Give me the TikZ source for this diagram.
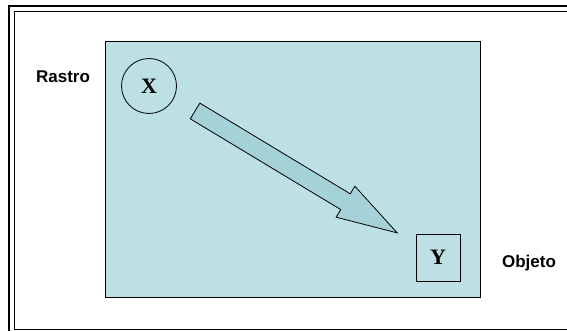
\documentclass[tikz,border=0pt]{standalone}
\usepackage{fontspec}
\setmainfont{Liberation Serif}
\setsansfont{Liberation Sans}
\usetikzlibrary{shapes.arrows,positioning}
\definecolor{fondo}{RGB}{188,224,228}
\definecolor{flecha}{RGB}{164,210,216}

\begin{document}
\begin{tikzpicture}[
    x=1pt, y=-1pt,
    marco/.style={draw, line width=1.6pt},
    zona/.style={draw, line width=1pt, fill=fondo},
    objeto/.style={draw, line width=0.8pt, inner sep=0pt, font=\bfseries\fontsize{22}{22}\selectfont},
    etiqueta/.style={font=\sffamily\bfseries\fontsize{17}{17}\selectfont},
    bloque/.style={draw, line width=0.8pt, fill=flecha, single arrow, inner xsep=0pt, inner ysep=8.8pt,
        minimum height=236pt, minimum width=35.4pt, single arrow head extend=8.9pt,
        single arrow tip angle=33.4},
]
    \useasboundingbox (0,0) rectangle (567,331);
    \begin{scope}
    \clip (0,0) rectangle (567,331);
    \draw [marco] (9,6) rectangle (585,345);
    \draw [marco] (14.5,11.5) rectangle (578,329.5);
    \end{scope}

    \draw [zona] (105.5,41.5) rectangle (480.5,297.5);

    \node [objeto, circle, minimum size=55pt] (x) at (149,86) {X};
    \node [objeto, rectangle, minimum width=44pt, minimum height=47pt] (y) at (438,257.5) {Y};

    \node [bloque, rotate=-31.1] (paso) at (283,164) {};

    \node [etiqueta] (rastro) at (63,77) {Rastro};
    \node [etiqueta] (obj) at (529,263) {Objeto};

\end{tikzpicture}
\end{document}
